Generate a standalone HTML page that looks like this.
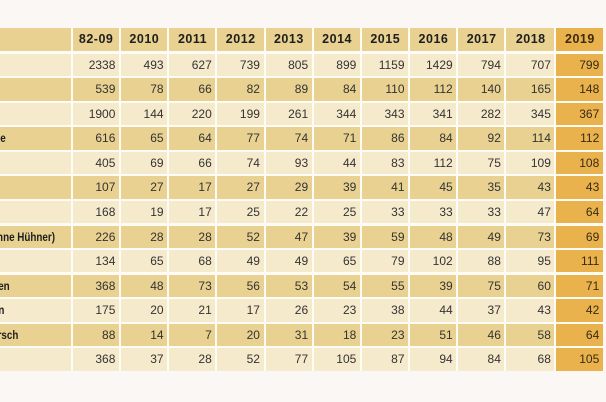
<!DOCTYPE html>
<html><head><meta charset="utf-8"><style>
html,body{margin:0;padding:0}
body{width:606px;height:402px;background:#faf7f5;position:relative;overflow:hidden;font-family:"Liberation Sans",Arial,sans-serif}
#t{position:absolute;left:0;top:28.3px;width:603px;background:#fffcf5;display:flex;flex-direction:column;row-gap:2.25px}
.r{display:grid;grid-template-columns:70.8px repeat(9,46.2px) 48px 46.4px;column-gap:2px;height:22.3px}
.r>div{font-size:12px;color:#333;text-align:right;padding-right:3.6px;line-height:23.2px;white-space:nowrap;position:relative;overflow:hidden}
.d>div{background:#e9d191}
.l>div{background:#f6eacc}
.r>div:last-child{background:#e9b24d;color:#3a2a10}
.h{height:23.2px}
.h>div{font-weight:bold;font-size:12.5px;letter-spacing:0.5px;padding-left:0.5px;padding-right:0;text-align:center;color:#1e1e1e;line-height:23.6px}
.r>div.lb{padding:0;text-align:left}
.lb span{position:absolute;top:0;font-weight:bold;font-size:12px;color:#1e1e1e;display:inline-block;transform:scaleX(0.82);transform-origin:right center;line-height:23px}
</style></head><body>
<div id="t">
<div class="r d h"><div></div><div>82-09</div><div>2010</div><div>2011</div><div>2012</div><div>2013</div><div>2014</div><div>2015</div><div>2016</div><div>2017</div><div>2018</div><div>2019</div></div>
<div class="r l"><div class="lb"></div><div>2338</div><div>493</div><div>627</div><div>739</div><div>805</div><div>899</div><div>1159</div><div>1429</div><div>794</div><div>707</div><div>799</div></div>
<div class="r d"><div class="lb"></div><div>539</div><div>78</div><div>66</div><div>82</div><div>89</div><div>84</div><div>110</div><div>112</div><div>140</div><div>165</div><div>148</div></div>
<div class="r l"><div class="lb"></div><div>1900</div><div>144</div><div>220</div><div>199</div><div>261</div><div>344</div><div>343</div><div>341</div><div>282</div><div>345</div><div>367</div></div>
<div class="r d"><div class="lb"><span style="right:65.5px">e</span></div><div>616</div><div>65</div><div>64</div><div>77</div><div>74</div><div>71</div><div>86</div><div>84</div><div>92</div><div>114</div><div>112</div></div>
<div class="r l"><div class="lb"></div><div>405</div><div>69</div><div>66</div><div>74</div><div>93</div><div>44</div><div>83</div><div>112</div><div>75</div><div>109</div><div>108</div></div>
<div class="r d"><div class="lb"></div><div>107</div><div>27</div><div>17</div><div>27</div><div>29</div><div>39</div><div>41</div><div>45</div><div>35</div><div>43</div><div>43</div></div>
<div class="r l"><div class="lb"></div><div>168</div><div>19</div><div>17</div><div>25</div><div>22</div><div>25</div><div>33</div><div>33</div><div>33</div><div>47</div><div>64</div></div>
<div class="r d"><div class="lb"><span style="right:15.8px">Vögel (ohne Hühner)</span></div><div>226</div><div>28</div><div>28</div><div>52</div><div>47</div><div>39</div><div>59</div><div>48</div><div>49</div><div>73</div><div>69</div></div>
<div class="r l"><div class="lb"></div><div>134</div><div>65</div><div>68</div><div>49</div><div>49</div><div>65</div><div>79</div><div>102</div><div>88</div><div>95</div><div>111</div></div>
<div class="r d"><div class="lb"><span style="right:60.8px">Ziegen</span></div><div>368</div><div>48</div><div>73</div><div>56</div><div>53</div><div>54</div><div>55</div><div>39</div><div>75</div><div>60</div><div>71</div></div>
<div class="r l"><div class="lb"><span style="right:66.8px">Schwan</span></div><div>175</div><div>20</div><div>21</div><div>17</div><div>26</div><div>23</div><div>38</div><div>44</div><div>37</div><div>43</div><div>42</div></div>
<div class="r d"><div class="lb"><span style="right:52.5px">Hirsch</span></div><div>88</div><div>14</div><div>7</div><div>20</div><div>31</div><div>18</div><div>23</div><div>51</div><div>46</div><div>58</div><div>64</div></div>
<div class="r l"><div class="lb"></div><div>368</div><div>37</div><div>28</div><div>52</div><div>77</div><div>105</div><div>87</div><div>94</div><div>84</div><div>68</div><div>105</div></div>
</div>
</body></html>
